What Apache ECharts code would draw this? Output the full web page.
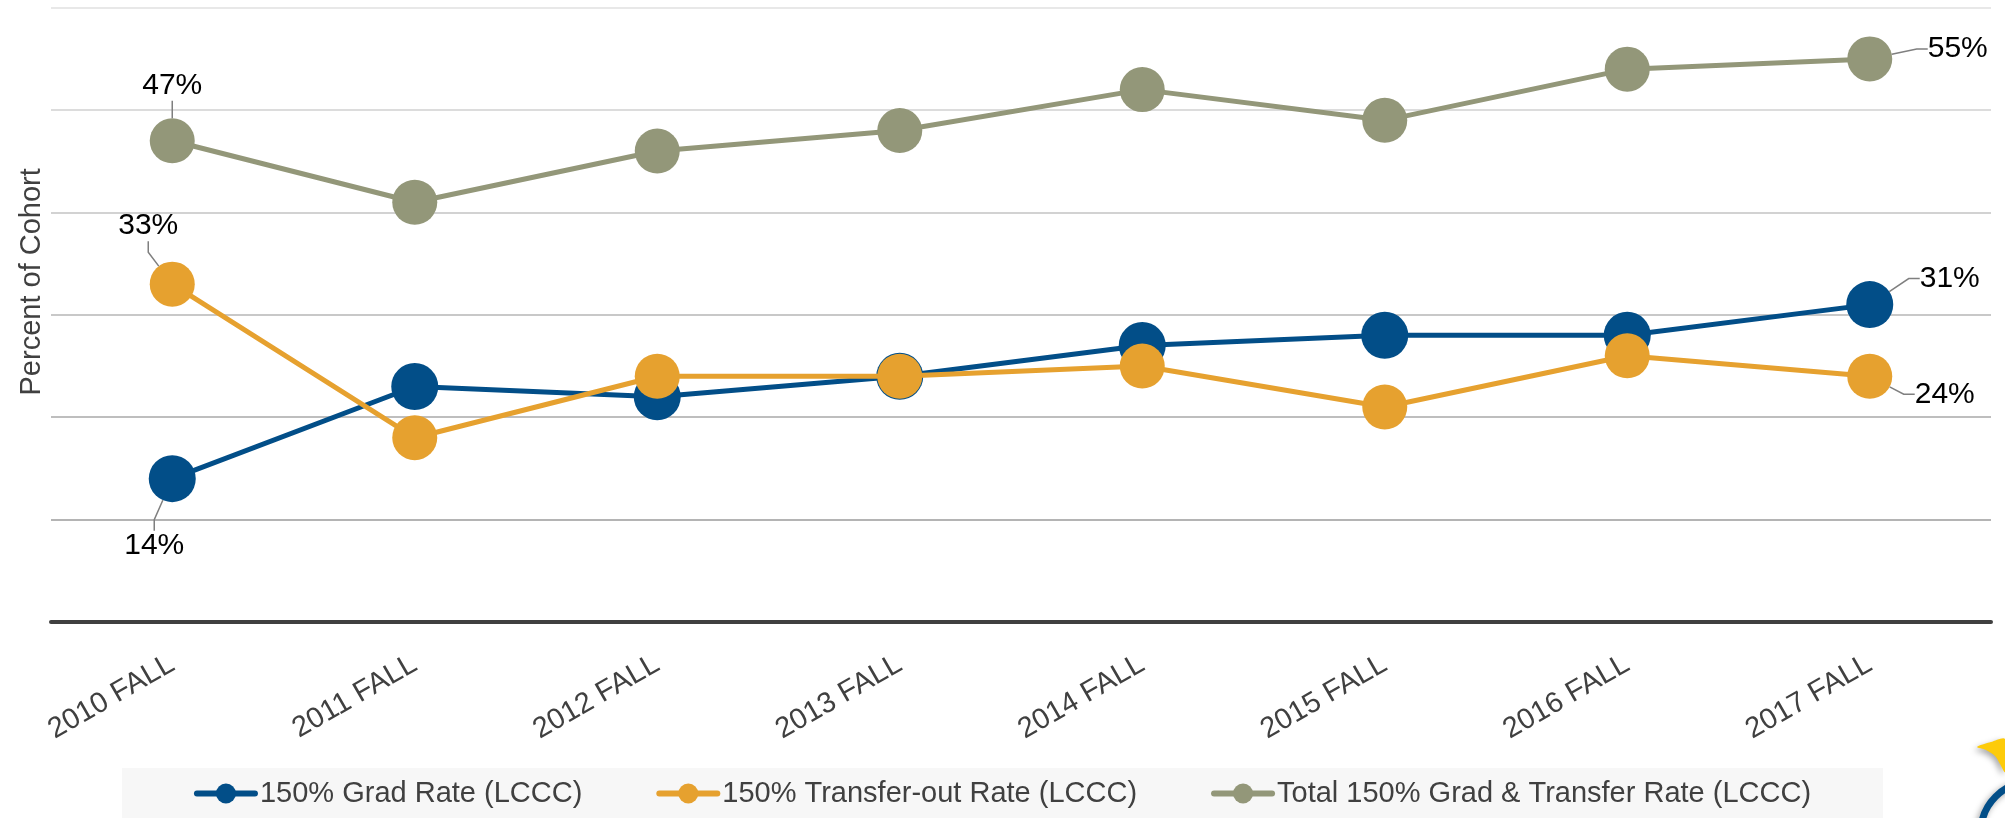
<!DOCTYPE html>
<html>
<head>
<meta charset="utf-8">
<title>150% Graduation and Transfer Rates (LCCC)</title>
<script src="https://cdn.jsdelivr.net/npm/echarts@6/dist/echarts.min.js"></script>
<style>
  html, body { margin: 0; padding: 0; background: #ffffff; }
  #chart { width: 2005px; height: 818px; }
</style>
</head>
<body>
<div id="chart"></div>
<script>
// Fall cohorts
const cohorts = ['2010 FALL', '2011 FALL', '2012 FALL', '2013 FALL', '2014 FALL', '2015 FALL', '2016 FALL', '2017 FALL'];

// Rates in percent of cohort
const gradRate = [14, 23, 22, 24, 27, 28, 28, 31];
const transferRate = [33, 18, 24, 24, 25, 21, 26, 24];
const totalRate = [47, 41, 46, 48, 52, 49, 54, 55];

const seriesNames = [
  '150% Grad Rate (LCCC)',
  '150% Transfer-out Rate (LCCC)',
  'Total 150% Grad & Transfer Rate (LCCC)'
];

const colors = ['#024e88', '#e6a12f', '#939779'];
const fontFamily = '"Liberation Sans", Arial, sans-serif';

// Offsets (px) of the first / last value labels from their markers
const labelShift = {
  0: { 0: [-18, 67], 7: [80, -26] },
  1: { 0: [-24, -58], 7: [75, 18] },
  2: { 0: [0, -55], 7: [88, -10] }
};

// Only the first and last point of each line carry a value label
function withEndLabels(values) {
  return values.map(function (v, i) {
    const labelled = i === 0 || i === values.length - 1;
    return { value: v, label: { show: labelled } };
  });
}

function lineSeries(idx, values, size) {
  return {
    name: seriesNames[idx],
    type: 'line',
    data: withEndLabels(values),
    symbol: 'circle',
    symbolSize: size,
    lineStyle: { width: 5, color: colors[idx] },
    itemStyle: { color: colors[idx] },
    z: 2 + idx,
    label: {
      show: false,
      position: 'inside',
      formatter: '{c}%',
      fontSize: 30,
      fontFamily: fontFamily,
      color: '#000000'
    },
    labelLine: {
      show: true,
      showAbove: true,
      length2: 11,
      lineStyle: { color: '#7f7f7f', width: 1.5 }
    },
    labelLayout: function (params) {
      const s = labelShift[params.seriesIndex] && labelShift[params.seriesIndex][params.dataIndex];
      return s ? { dx: s[0], dy: s[1] } : {};
    },
    emphasis: { disabled: true },
    animation: false
  };
}

const chart = echarts.init(document.getElementById('chart'), null, { renderer: 'canvas' });

chart.setOption({
  backgroundColor: '#ffffff',
  animation: false,
  color: colors,
  grid: { left: 51, right: 14, top: 7.7, bottom: 196, containLabel: false },
  xAxis: {
    type: 'category',
    data: cohorts,
    boundaryGap: true,
    axisLine: { show: true, lineStyle: { color: '#404040', width: 4 } },
    axisTick: { show: false },
    axisLabel: {
      rotate: 30,
      margin: 40,
      fontSize: 29,
      fontFamily: fontFamily,
      color: '#404040'
    },
    splitLine: { show: false }
  },
  yAxis: {
    type: 'value',
    min: 0,
    max: 60,
    interval: 10,
    name: 'Percent of Cohort',
    nameLocation: 'middle',
    nameGap: 5,
    nameTextStyle: {
      fontSize: 29,
      fontFamily: fontFamily,
      color: '#404040',
      padding: [0, 0, 0, 66]
    },
    axisLine: { show: false },
    axisTick: { show: false },
    axisLabel: { show: false },
    splitLine: {
      show: true,
      lineStyle: {
        width: 2,
        color: ['#c8c8c8', '#b4b4b4', '#bebebe', '#c8c8c8', '#d2d2d2', '#dcdcdc', '#e8e8e8']
      }
    }
  },
  legend: {
    data: seriesNames,
    left: 'center',
    top: 768,
    backgroundColor: '#f7f7f7',
    padding: [11, 72, 40, 72],
    itemGap: 74,
    itemWidth: 58,
    itemHeight: 25,
    lineStyle: { width: 6, cap: 'round' },
    textStyle: { fontSize: 29, fontFamily: fontFamily, color: '#404040' },
    selectedMode: false
  },
  tooltip: { show: false },
  series: [
    lineSeries(0, gradRate, 47),
    lineSeries(1, transferRate, 45),
    lineSeries(2, totalRate, 45)
  ],
  graphic: [
    {
      // corner emblem
      type: 'group',
      silent: true,
      children: [
        {
          type: 'polygon',
          shape: {
            points: [[1977, 747], [1991, 742], [2005, 739], [2005, 772], [2000, 764], [1995, 756], [1986, 750]],
            smooth: 0.3
          },
          style: { fill: '#fdcb0a', shadowBlur: 6, shadowColor: 'rgba(0,0,0,0.35)', shadowOffsetX: -2, shadowOffsetY: 3 }
        },
        {
          type: 'circle',
          shape: { cx: 2031, cy: 832, r: 50 },
          style: { fill: 'none', stroke: '#024e88', lineWidth: 7, shadowBlur: 6, shadowColor: 'rgba(0,0,0,0.35)', shadowOffsetX: -2, shadowOffsetY: 2 }
        }
      ]
    }
  ]
});
</script>
</body>
</html>
